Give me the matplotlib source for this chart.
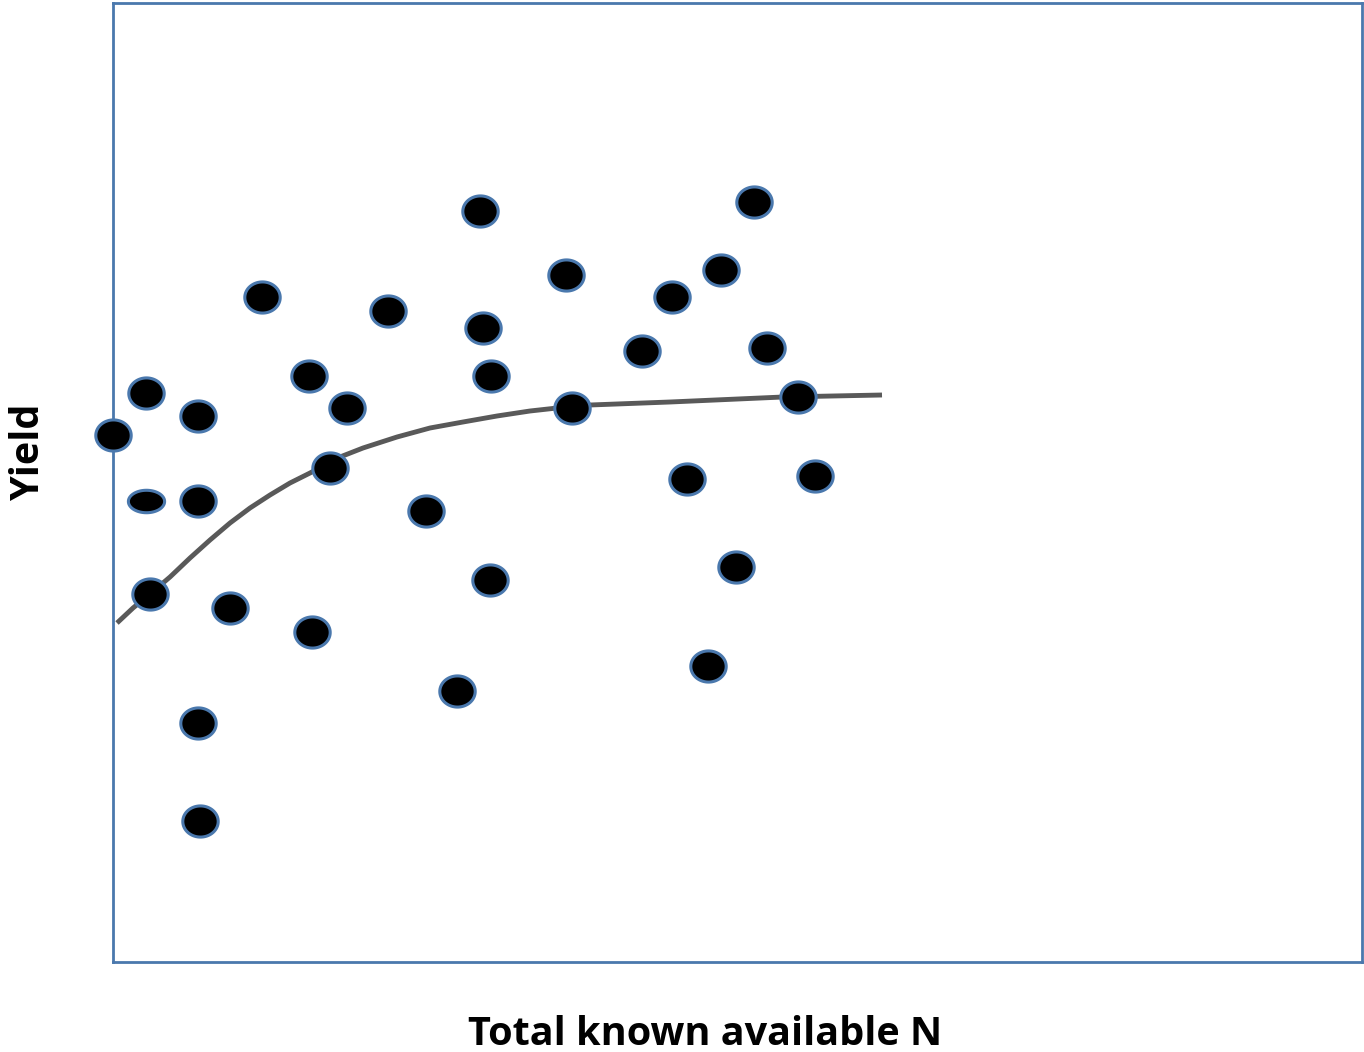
import numpy as np
import matplotlib.pyplot as plt
from matplotlib.path import Path

# scatter points (axis units = pixel offsets from lower-left corner)
n_x = [0, 33, 85, 33, 85, 37, 117, 85, 87, 149, 196, 234, 217, 275, 199, 313,
       344, 367, 370, 378, 377, 453, 459, 529, 559, 574, 608, 641, 654, 685, 702, 623, 595]
yield_y = [527, 569, 546, 461, 461, 368, 354, 239, 141, 665, 586, 554, 494, 651, 330, 451,
           271, 751, 634, 586, 382, 687, 554, 611, 665, 483, 692, 760, 614, 565, 486, 395, 296]

# fitted response curve
curve_x = [4, 20, 37, 57, 77, 97, 117, 137, 157, 177, 197, 227, 250, 284, 317, 350, 384,
           417, 444, 477, 557, 670, 769]
curve_y = [339, 354, 368, 385, 404, 422, 439, 454, 467, 479, 489, 505, 514, 525, 534, 540, 546,
           551, 554, 557, 560, 565, 567]

frame_color = '#4a78ad'


def ellipse_marker(ratio):
    t = np.linspace(0, 2 * np.pi, 80)
    verts = np.column_stack([np.cos(t), ratio * np.sin(t)])
    return Path(verts, closed=True)


fig = plt.figure(figsize=(13.64, 10.52), dpi=100)
ax = fig.add_axes([113 / 1364, 90 / 1052, 1249 / 1364, 959 / 1052])

ax.plot(curve_x, curve_y, color='#595959', linewidth=3.5, zorder=2,
        solid_capstyle='butt', solid_joinstyle='round')

flat = 3  # one point is drawn squashed in the original
rest = [i for i in range(len(n_x)) if i != flat]
ax.scatter([n_x[i] for i in rest], [yield_y[i] for i in rest], s=650, marker=ellipse_marker(0.88),
           color='black', edgecolors=frame_color, linewidths=2.2, zorder=4, clip_on=False)
ax.scatter([n_x[flat]], [yield_y[flat]], s=680, marker=ellipse_marker(0.62),
           color='black', edgecolors=frame_color, linewidths=2.2, zorder=4, clip_on=False)

ax.set_xlim(0, 1249)
ax.set_ylim(0, 959)
ax.set_xticks([])
ax.set_yticks([])
for sp in ax.spines.values():
    sp.set_color(frame_color)
    sp.set_linewidth(2)

fig.text(0.517, 0.017, 'Total known available N', ha='center', va='center',
         fontsize=28.5, fontweight='bold', family='Open Sans')
fig.text(0.021, 0.57, 'Yield', ha='center', va='center', rotation=90,
         fontsize=28.5, fontweight='bold', family='Open Sans')

fig.savefig('out.png', dpi=100)
